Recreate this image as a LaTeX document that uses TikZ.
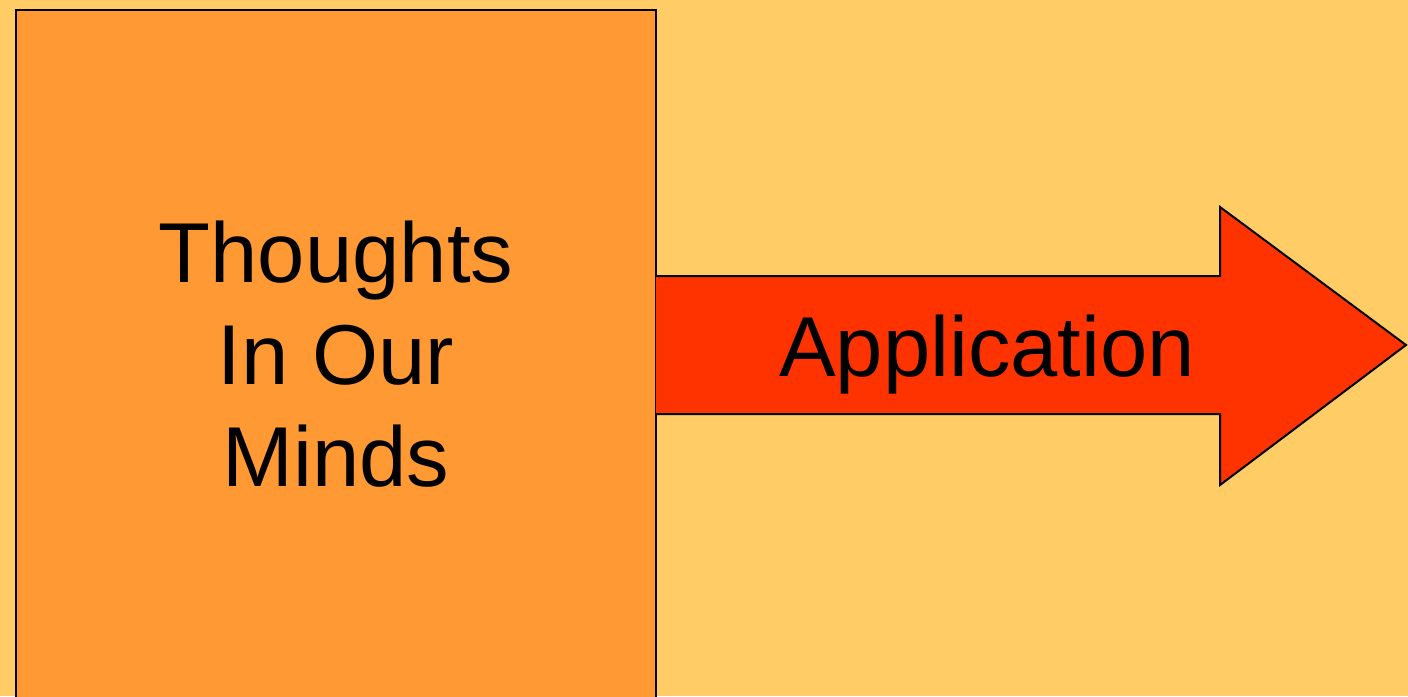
\documentclass[tikz,border=0pt]{standalone}
\usepackage{fontspec}
\setmainfont{Liberation Sans}
\definecolor{bgc}{HTML}{FFCC66}
\definecolor{boxc}{HTML}{FF9933}
\definecolor{arrc}{HTML}{FF3300}
\tikzset{
  shapeline/.style={draw=black, line width=1pt},
  bigtext/.style={font=\fontsize{42.5}{51}\selectfont, text=black, align=center, inner sep=0pt},
}
\begin{document}
\begin{tikzpicture}[x=0.5pt,y=-0.5pt]
\fill[bgc] (0,0) rectangle (1408,696);
\useasboundingbox (0,0) rectangle (1408,696);
\path[shapeline, fill=boxc] (16,720) -- (16,10) -- (656,10) -- (656,720);
\node[bigtext] (thoughts) at (336,354) {Thoughts\\In Our\\Minds};
\path[shapeline, fill=arrc] (656,276) -- (1220,276) -- (1220,207) -- (1406,345) -- (1220,485) -- (1220,414) -- (656,414);
\node[bigtext] (app) at (987,355) {Application};
\end{tikzpicture}
\end{document}
